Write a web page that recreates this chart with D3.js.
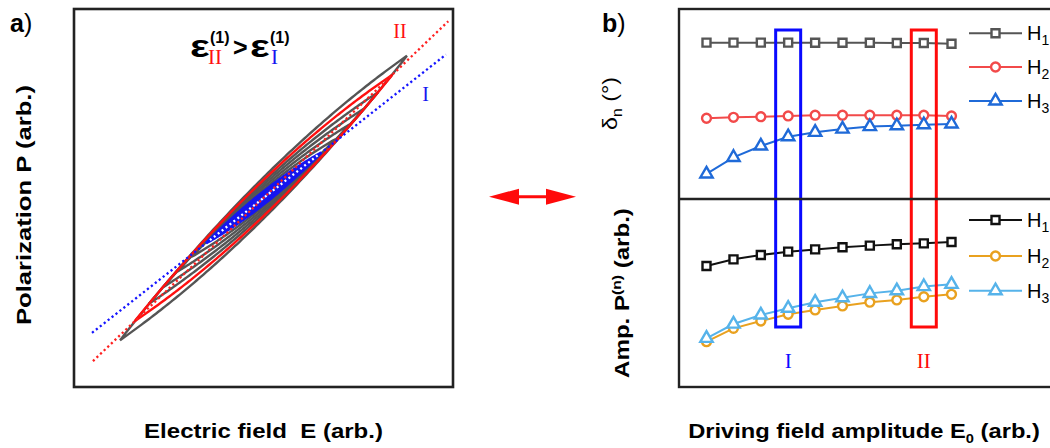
<!DOCTYPE html>
<html>
<head>
<meta charset="utf-8">
<script src="https://cdn.jsdelivr.net/npm/d3@7"></script>
<style>
  body { margin: 0; background: #fff; }
  svg { display: block; font-family: "Liberation Sans", Arial, sans-serif; }
</style>
</head>
<body>
<svg id="chart" width="1050" height="448"></svg>
<script>
// driving field amplitudes (same ones in a and b)
const amplitudes = [0.076, 0.151, 0.227, 0.303, 0.378, 0.454, 0.530, 0.605, 0.680, 0.757];
// loop parameters read from the loop tips / widths
const epsInit = 0.651;
const rayleighAlpha = 0.453;
const loopWidthCoef = 0.155;
const loopWidthPow = 1.26;
const idxI = 3;   // loop / point I
const idxII = 8;  // loop / point II
const dottedRangeII = [-0.9, 0.975];
const dottedRangeI = [-0.905, 0.963];

// panel b, phase (top) and amplitude (bottom), arb. units
const phaseH1 = [0.823, 0.823, 0.823, 0.823, 0.822, 0.822, 0.822, 0.821, 0.821, 0.817];
const phaseH2 = [0.425, 0.430, 0.433, 0.437, 0.441, 0.441, 0.441, 0.441, 0.441, 0.437];
const phaseH3 = [0.132, 0.219, 0.279, 0.328, 0.351, 0.368, 0.381, 0.386, 0.391, 0.395];
const ampH1 = [0.644, 0.679, 0.702, 0.720, 0.732, 0.743, 0.752, 0.759, 0.764, 0.771];
const ampH2 = [0.241, 0.312, 0.351, 0.387, 0.410, 0.431, 0.451, 0.463, 0.480, 0.493];
const ampH3 = [0.259, 0.335, 0.383, 0.419, 0.451, 0.475, 0.498, 0.512, 0.534, 0.546];
const harmonics = ["1", "2", "3"];

var svg = d3.select("#chart");
var serif = '"Liberation Serif", "Times New Roman", serif';
var RED = "#ff1010", BLUE = "#1515f0", GREY = "#555555";

// fit a text to a given length (the original uses a narrow font)
function fitText(t, cx, cy, len, rot) {
  var w = t.node().getBBox().width;
  t.attr("x", 0).attr("y", 0)
    .attr("transform", "translate(" + cx + "," + cy + ")" + (rot ? " rotate(-90)" : "") + " scale(" + (len / w) + ",1)");
}

// ---------- panel a ----------
var ax = d3.scaleLinear().domain([-1, 1]).range([74, 453]);
var ay = d3.scaleLinear().domain([-1, 1]).range([387, 9]);

function loopPoints(e0) {
  var pts = [];
  var n = 120;
  var k = epsInit + rayleighAlpha * e0;
  var h = loopWidthCoef * Math.pow(e0, loopWidthPow);
  for (var i = 0; i <= n; i++) {
    var e = e0 - (2 * e0 * i) / n;
    pts.push([e, k * e + h * (1 - (e * e) / (e0 * e0))]);
  }
  for (var j = 1; j <= n; j++) {
    var e2 = -e0 + (2 * e0 * j) / n;
    pts.push([e2, k * e2 - h * (1 - (e2 * e2) / (e0 * e0))]);
  }
  return pts;
}

var loopLine = d3.line().x(function (d) { return ax(d[0]); }).y(function (d) { return ay(d[1]); });

var loops = amplitudes.map(function (a, i) {
  return { e0: a, i: i, color: i == idxI ? BLUE : i == idxII ? RED : GREY };
});
// grey first, coloured loops on top
loops.sort(function (a, b) { return (a.color == GREY ? 0 : 1) - (b.color == GREY ? 0 : 1); });

svg.append("g").selectAll("path")
  .data(loops)
  .enter()
  .append("path")
  .attr("d", function (d) { return loopLine(loopPoints(d.e0)) + "Z"; })
  .attr("fill", function (d) { return d.i == idxI ? BLUE : "none"; })
  .attr("stroke", function (d) { return d.color; })
  .attr("stroke-width", function (d) { return d.i == idxI ? 2.8 : 2.4; });

// slope lines
function slopeLine(e0, range, color, dash, offset) {
  var k = epsInit + rayleighAlpha * e0;
  svg.append("line")
    .attr("x1", ax(range[0])).attr("y1", ay(k * range[0]))
    .attr("x2", ax(range[1])).attr("y2", ay(k * range[1]))
    .attr("stroke", color)
    .attr("stroke-width", 2.3)
    .attr("stroke-dasharray", dash)
    .attr("stroke-dashoffset", offset);
}
slopeLine(amplitudes[idxII], dottedRangeII, "#ff2020", "2.2,2.8", 0);
slopeLine(amplitudes[idxI], dottedRangeI, "#1515ff", "2.2,2.8", 0);
// the gaps of line I show white inside the filled blue loop
var eI = amplitudes[idxI];
var kI = epsInit + rayleighAlpha * eI;
var lenPre = Math.hypot(ax(-eI) - ax(dottedRangeI[0]), ay(-eI * kI) - ay(dottedRangeI[0] * kI));
slopeLine(eI, [-eI * 0.97, eI * 0.97], "#ffffff", "2,3", -(lenPre % 5) - 2.6);

svg.append("rect")
  .attr("x", 74).attr("y", 9).attr("width", 379).attr("height", 378)
  .attr("fill", "none").attr("stroke", "#222").attr("stroke-width", 2.6);

svg.append("text").attr("x", 400).attr("y", 38).attr("text-anchor", "middle")
  .style("font-family", serif).style("font-size", "20px").style("fill", RED).text("II");
svg.append("text").attr("x", 425.5).attr("y", 101).attr("text-anchor", "middle")
  .style("font-family", serif).style("font-size", "20px").style("fill", BLUE).text("I");

// epsilon annotation
function epsLabel(x, sub, subColor) {
  var e = svg.append("text").attr("x", 0).attr("y", 0)
    .style("font-size", "31px").style("font-weight", "bold").text("ε");
  var bb = e.node().getBBox();
  e.attr("transform", "translate(" + x + ",57) scale(" + (20 / bb.width) + ",1)");
  svg.append("text").attr("x", x + 20).attr("y", 42.5)
    .style("font-size", "16px").style("font-weight", "bold").text("(1)");
  svg.append("text").attr("x", x + 18 + (sub == "I" ? 3 : 0)).attr("y", 64.3)
    .style("font-family", serif).style("font-size", "21px").style("fill", subColor).text(sub);
}
epsLabel(190, "II", RED);
svg.append("text").attr("x", 233).attr("y", 56)
  .style("font-size", "25px").style("font-weight", "bold").text(">");
epsLabel(250, "I", BLUE);

// ---------- panel b ----------
var bx = d3.scaleLinear().domain([amplitudes[0], amplitudes[9]]).range([706.5, 951.5]);
var yTop = d3.scaleLinear().domain([0, 1]).range([199, 9]);
var yBot = d3.scaleLinear().domain([0, 1]).range([387, 199]);

var symbols = [d3.symbolSquare, d3.symbolCircle, d3.symbolTriangle];
var symSize = [64, 62, 66];

var series = [
  { values: phaseH1, scale: yTop, color: GREY, s: 0 },
  { values: phaseH2, scale: yTop, color: "#f24a4a", s: 1 },
  { values: phaseH3, scale: yTop, color: "#1f6ad8", s: 2 },
  { values: ampH1, scale: yBot, color: "#111111", s: 0 },
  { values: ampH2, scale: yBot, color: "#e9a11f", s: 1 },
  { values: ampH3, scale: yBot, color: "#56b3ea", s: 2 }
];

function box(i, color) {
  svg.append("rect")
    .attr("x", bx(amplitudes[i]) - 12.5).attr("y", 30)
    .attr("width", 25).attr("height", 297)
    .attr("fill", "none").attr("stroke", color).attr("stroke-width", 3);
}

series.forEach(function (sr) {
  var g = svg.append("g");
  var line = d3.line()
    .x(function (d, i) { return bx(amplitudes[i]); })
    .y(function (d) { return sr.scale(d); });
  g.append("path").attr("d", line(sr.values))
    .attr("fill", "none").attr("stroke", sr.color).attr("stroke-width", 2);
  g.selectAll(".pt")
    .data(sr.values)
    .enter()
    .append("path")
    .attr("class", "pt")
    .attr("transform", function (d, i) { return "translate(" + bx(amplitudes[i]) + "," + sr.scale(d) + ")"; })
    .attr("d", d3.symbol().type(symbols[sr.s]).size(symSize[sr.s]))
    .attr("fill", "#fff").attr("stroke", sr.color).attr("stroke-width", 2.4);
});

box(idxI, "#0a0aff");
box(idxII, "#ff0a0a");

svg.append("text").attr("x", bx(amplitudes[idxI])).attr("y", 367.5).attr("text-anchor", "middle")
  .style("font-family", serif).style("font-size", "21px").style("fill", "#0a0aff").text("I");
svg.append("text").attr("x", bx(amplitudes[idxII])).attr("y", 367.5).attr("text-anchor", "middle")
  .style("font-family", serif).style("font-size", "21px").style("fill", "#ff0a0a").text("II");

// legends
var legTop = [33.3, 67, 101];
var legBot = [220, 256, 290.7];
series.forEach(function (sr, k) {
  var y = k < 3 ? legTop[k] : legBot[k - 3];
  svg.append("line").attr("x1", 969).attr("x2", 1022).attr("y1", y).attr("y2", y)
    .attr("stroke", sr.color).attr("stroke-width", 2);
  svg.append("path").attr("transform", "translate(995.5," + y + ")")
    .attr("d", d3.symbol().type(symbols[sr.s]).size(symSize[sr.s]))
    .attr("fill", "#fff").attr("stroke", sr.color).attr("stroke-width", 2.4);
  var t = svg.append("text").attr("x", 1027).attr("y", y + 7)
    .style("font-size", "20px").text("H");
  t.append("tspan").attr("dy", 5).style("font-size", "14px").text(harmonics[k % 3]);
});

svg.append("rect")
  .attr("x", 679).attr("y", 9).attr("width", 400).attr("height", 378)
  .attr("fill", "none").attr("stroke", "#222").attr("stroke-width", 2.4);
svg.append("line").attr("x1", 679).attr("x2", 1050).attr("y1", 199).attr("y2", 199)
  .attr("stroke", "#222").attr("stroke-width", 2.4);

// ---------- arrow ----------
svg.append("path")
  .attr("d", "M489,196.7 L519,188.7 L519,195.2 L546,195.2 L546,188.7 L576,196.7 L546,204.7 L546,198.2 L519,198.2 L519,204.7 Z")
  .attr("fill", "#ff0a0a");

// ---------- titles ----------
function panelLabel(x, ch) {
  var t = svg.append("text").attr("x", x).attr("y", 32).style("font-size", "25px");
  t.append("tspan").style("font-weight", "bold").text(ch);
  t.append("tspan").text(")");
}
panelLabel(10, "a");
panelLabel(602, "b");

var t1 = svg.append("text").attr("text-anchor", "middle")
  .style("font-size", "20px").style("font-weight", "bold").text("Polarization P (arb.)");
fitText(t1, 31, 205, 240, true);

var t2 = svg.append("text").attr("text-anchor", "middle")
  .style("font-size", "21px").style("font-weight", "bold").text("Electric field\u00a0 E (arb.)");
fitText(t2, 263.5, 438, 239, false);

var t3 = svg.append("text").attr("text-anchor", "middle")
  .style("font-size", "21px").style("font-weight", "bold").text("Driving field amplitude E");
t3.append("tspan").attr("dy", 5).style("font-size", "13px").text("0");
t3.append("tspan").attr("dy", -5).text(" (arb.)");
fitText(t3, 864, 438, 352, false);

var t4 = svg.append("text").attr("text-anchor", "middle").style("font-size", "21px").text("δ");
t4.append("tspan").attr("dy", 5).style("font-size", "14px").text("n");
t4.append("tspan").attr("dy", -5).text(" (°)");
fitText(t4, 617, 103.5, 53, true);

var t5 = svg.append("text").attr("text-anchor", "middle")
  .style("font-size", "20px").style("font-weight", "bold").text("Amp. P");
t5.append("tspan").attr("dy", -8).style("font-size", "13px").text("(n)");
t5.append("tspan").attr("dy", 8).text(" (arb.)");
fitText(t5, 629, 293, 170, true);
</script>
</body>
</html>
